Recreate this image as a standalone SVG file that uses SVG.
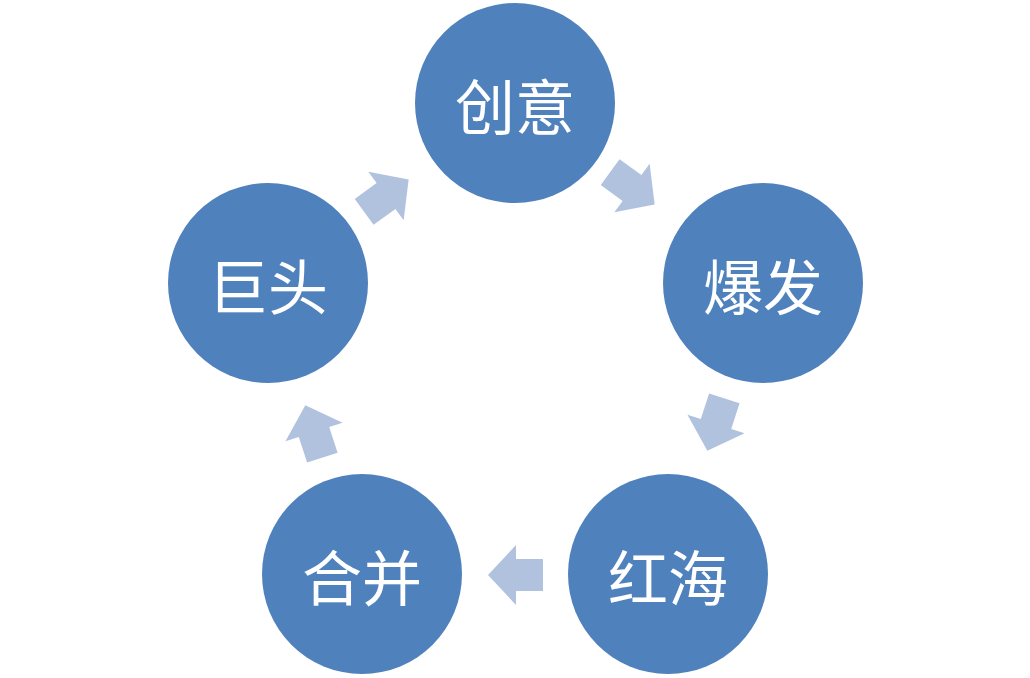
<svg xmlns="http://www.w3.org/2000/svg" width="1030" height="678" viewBox="0 0 1030 678">
<defs><style>
.n{fill:#4F81BD}
.t{fill:#fff;font-family:"Noto Sans CJK SC",sans-serif;font-size:60px;text-anchor:middle;dominant-baseline:central}
.a{fill:#B0C2DE}
</style>
<path id="ar" d="M-27,-16H0V-30L28,0L0,30V16H-27Z"/></defs>
<rect width="1030" height="678" fill="#fff"/>
<g id="connectors">
<use href="#ar" class="a" transform="translate(632,188) rotate(36)"/>
<use href="#ar" class="a" transform="translate(716,424) rotate(108)"/>
<use href="#ar" class="a" transform="translate(516,575) rotate(180)"/>
<use href="#ar" class="a" transform="translate(314,432) rotate(252)"/>
<use href="#ar" class="a" transform="translate(386,196) rotate(-36)"/>
</g>
<g id="n1"><circle class="n" cx="515" cy="103" r="100"/><text class="t" x="515" y="103">创意</text></g>
<g id="n2"><circle class="n" cx="763" cy="283" r="100"/><text class="t" x="763" y="283">爆发</text></g>
<g id="n3"><circle class="n" cx="668" cy="574" r="100"/><text class="t" x="668" y="574">红海</text></g>
<g id="n4"><circle class="n" cx="362" cy="574" r="100"/><text class="t" x="362" y="574">合并</text></g>
<g id="n5"><circle class="n" cx="268" cy="283" r="100"/><text class="t" x="268" y="283">巨头</text></g>
</svg>
